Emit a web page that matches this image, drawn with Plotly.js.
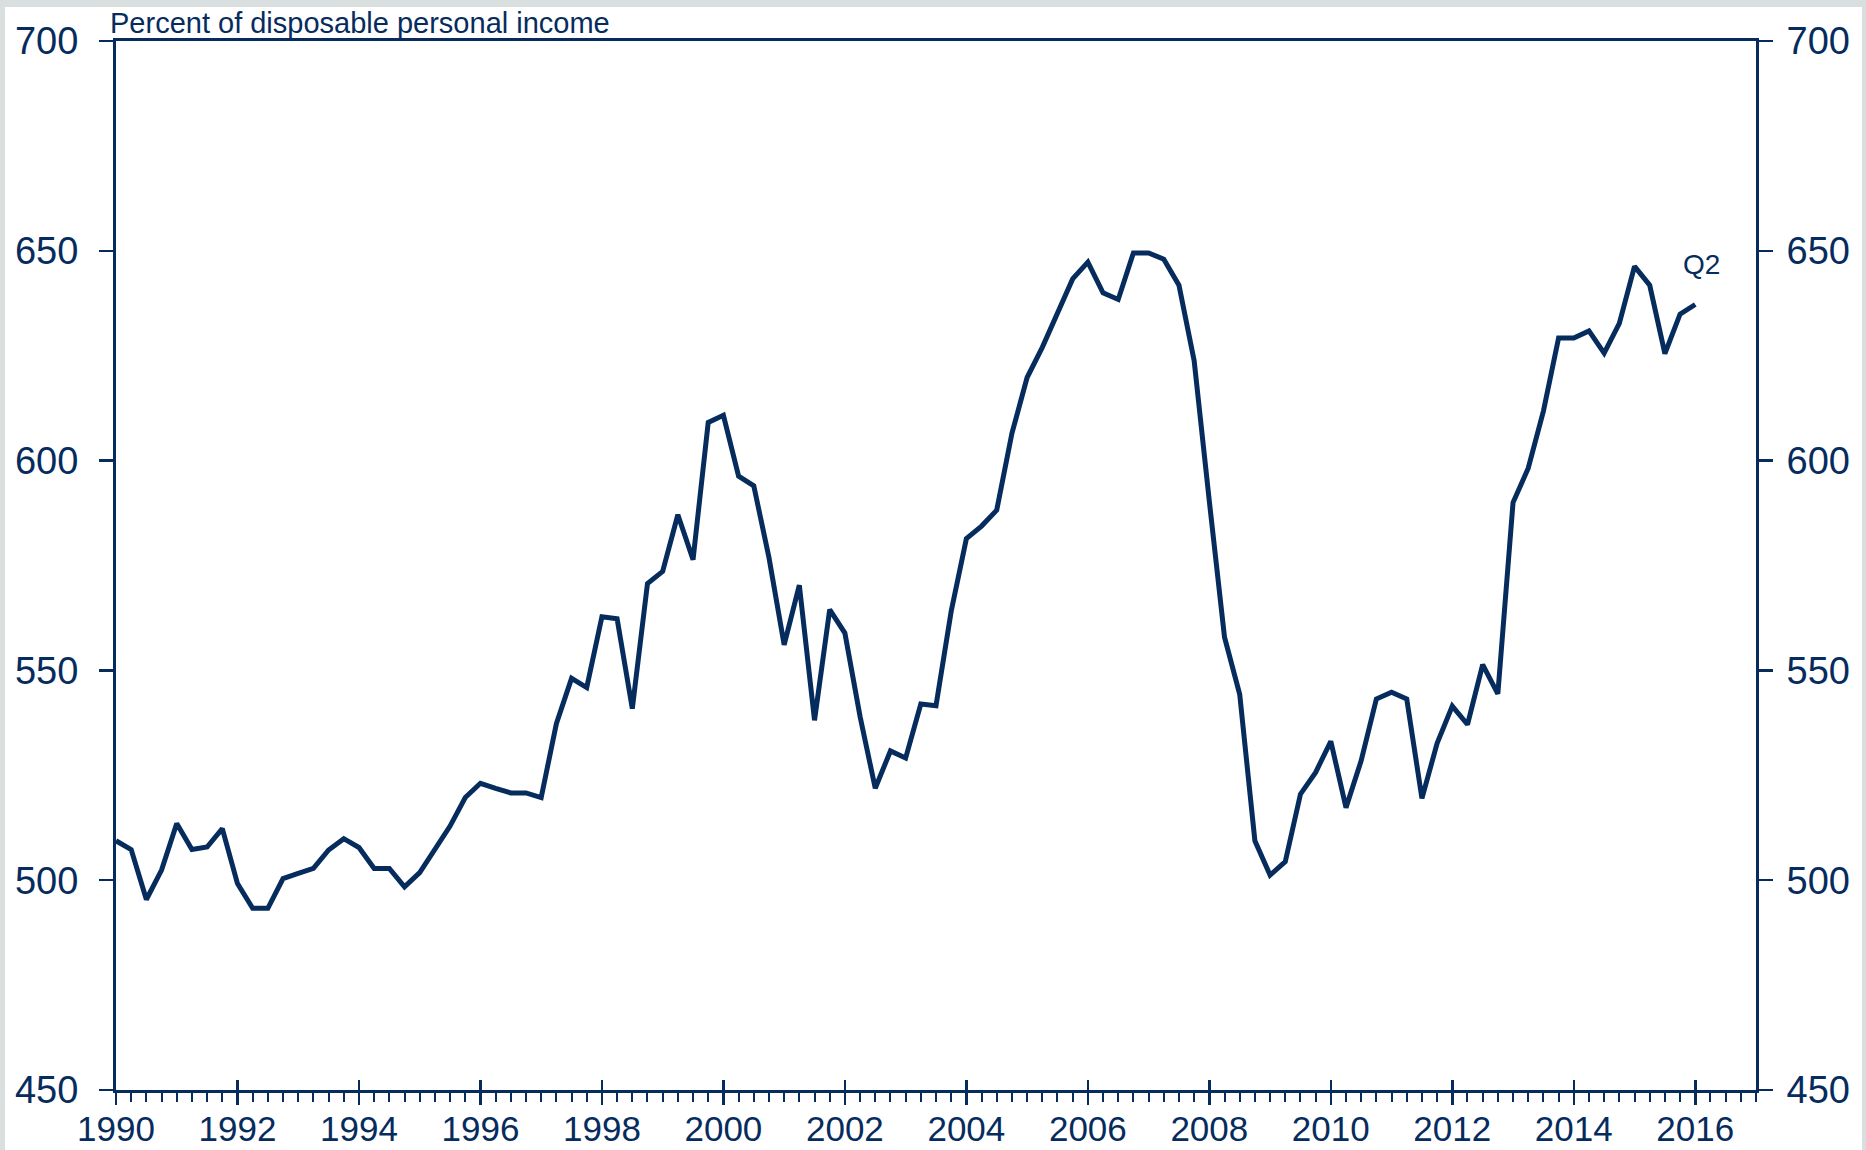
<!DOCTYPE html>
<html>
<head>
<meta charset="utf-8">
<script src="https://cdn.plot.ly/plotly-3.0.1.min.js"></script>
<style>
html, body { margin: 0; padding: 0; background: #d9dede; width: 1866px; height: 1150px; overflow: hidden; }
#chart { position: absolute; left: 5px; top: 7px; width: 1857px; height: 1143px; background: #ffffff; }
</style>
</head>
<body>
<div id="chart"></div>
<script>
// ---- data ----
const startYear = 1990;
const quartersPerYear = 4;
const ratioValues = [
  509.4, 507.3, 495.4, 502.4, 513.5, 507.3, 507.9, 512.3, 499.2, 493.3,
  493.3, 500.4, 501.6, 502.8, 507.2, 509.9, 507.8, 502.8, 502.8, 498.4,
  501.8, 507.3, 512.9, 519.7, 523.1, 521.9, 520.8, 520.8, 519.7, 537.3,
  548.1, 545.9, 562.8, 562.3, 540.9, 570.7, 573.6, 587.1, 576.4, 609.1,
  610.8, 596.3, 594.0, 576.9, 556.1, 570.3, 538.1, 564.5, 558.9, 539.0,
  521.9, 530.8, 529.1, 542.0, 541.6, 564.1, 581.4, 584.4, 588.2, 606.5,
  619.8, 627.0, 635.4, 643.3, 647.3, 640.0, 638.4, 649.5, 649.5, 648.0,
  641.8, 623.8, 590.3, 557.9, 544.3, 509.4, 501.2, 504.4, 520.5, 525.7,
  533.1, 517.3, 528.5, 543.2, 544.8, 543.2, 519.5, 532.6, 541.5, 537.1,
  551.4, 544.4, 590.0, 598.2, 611.8, 629.2, 629.2, 630.9, 625.6, 632.7,
  646.3, 641.8, 625.5, 634.9, 637.2
];
const yearTicks = [1990, 1992, 1994, 1996, 1998, 2000, 2002, 2004, 2006, 2008, 2010, 2012, 2014, 2016];
const yTicks = [450, 500, 550, 600, 650, 700];
const xRange = [1990, 2017];
const yRange = [450, 700];
const lastLabel = 'Q2';
const unitLabel = 'Percent of disposable personal income';

// ---- build ----
const navy = '#062c5e';
const xPos = ratioValues.map((v, i) => startYear + i / quartersPerYear);
const last = ratioValues.length - 1;

const traces = [
  { x: xPos, y: ratioValues, type: 'scatter', mode: 'lines',
    line: { color: navy, width: 5 }, hoverinfo: 'skip', showlegend: false },
  { x: xPos, y: ratioValues, xaxis: 'x2', yaxis: 'y', type: 'scatter', mode: 'lines',
    opacity: 0, line: { width: 1 }, hoverinfo: 'skip', showlegend: false },
  { x: xPos, y: ratioValues, xaxis: 'x', yaxis: 'y2', type: 'scatter', mode: 'lines',
    opacity: 0, line: { width: 1 }, hoverinfo: 'skip', showlegend: false }
];

const tickFontX = { family: 'Liberation Sans, Arial, sans-serif', size: 35, color: navy };
const tickFontY = { family: 'Liberation Sans, Arial, sans-serif', size: 38, color: navy };

const yCommon = {
  range: yRange, tickmode: 'array', tickvals: yTicks, ticktext: yTicks.map(String),
  ticks: 'outside', ticklen: 14, tickwidth: 2.5, tickcolor: navy,
  showline: true, linewidth: 3, linecolor: navy,
  showgrid: false, zeroline: false, tickfont: tickFontY,
  fixedrange: true
};

const layout = {
  width: 1857, height: 1143,
  margin: { l: 111, r: 106, t: 34, b: 60, pad: 0 },
  paper_bgcolor: '#ffffff', plot_bgcolor: '#ffffff',
  showlegend: false,
  xaxis: {
    range: xRange, tickmode: 'array', tickvals: yearTicks, ticktext: yearTicks.map(String),
    ticks: 'outside', ticklen: 12, tickwidth: 2.5, tickcolor: navy,
    showline: true, linewidth: 3, linecolor: navy, mirror: true,
    showgrid: false, zeroline: false, tickfont: tickFontX, ticklabelstandoff: -6,
    minor: { tickmode: 'linear', tick0: 1990, dtick: 0.25, ticks: 'outside',
             ticklen: 9, tickwidth: 2, tickcolor: navy, showgrid: false },
    fixedrange: true
  },
  xaxis2: {
    overlaying: 'x', anchor: 'y', side: 'bottom', range: xRange,
    tickmode: 'array', tickvals: yearTicks, ticks: 'inside', ticklen: 10, tickwidth: 2.5,
    tickcolor: navy, showticklabels: false, showline: false, showgrid: false, zeroline: false,
    fixedrange: true
  },
  yaxis: Object.assign({ side: 'left', ticklabelstandoff: 13 }, yCommon),
  yaxis2: Object.assign({ side: 'right', overlaying: 'y', anchor: 'x', ticklabelstandoff: 6 }, yCommon),
  annotations: [
    { text: unitLabel, xref: 'paper', yref: 'paper', x: -0.005, y: 1,
      xanchor: 'left', yanchor: 'bottom', yshift: 0, showarrow: false,
      font: { family: 'Liberation Sans, Arial, sans-serif', size: 29, color: navy } },
    { text: lastLabel, xref: 'x', yref: 'y', x: xPos[last], y: ratioValues[last],
      xanchor: 'center', yanchor: 'middle', xshift: 6, yshift: 40, showarrow: false,
      font: { family: 'Liberation Sans, Arial, sans-serif', size: 28, color: navy } }
  ]
};

Plotly.newPlot('chart', traces, layout, { staticPlot: true, displayModeBar: false });
</script>
</body>
</html>
